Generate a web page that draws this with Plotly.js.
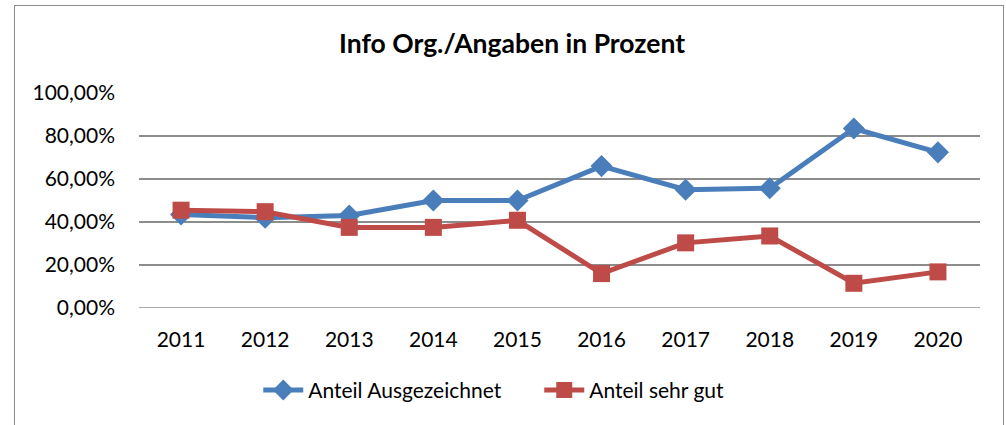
<!DOCTYPE html>
<html><head><meta charset="utf-8">
<script src="https://cdn.plot.ly/plotly-3.0.1.min.js"></script>
<style>
html,body{margin:0;padding:0;background:#fff;}
#wrap{position:relative;width:1006px;height:425px;}
#chart{width:1006px;height:425px;}
#frame{position:absolute;left:14px;top:5px;width:990px;height:430px;border:1.5px solid #8c8c8c;pointer-events:none;box-sizing:border-box;}
</style></head>
<body>
<div id="wrap"><div id="chart"></div><div id="frame"></div></div>
<script>
const years = ['2011','2012','2013','2014','2015','2016','2017','2018','2019','2020'];
const ausgezeichnet = [0.435, 0.42, 0.43, 0.50, 0.50, 0.66, 0.55, 0.557, 0.835, 0.724];
const sehrGut = [0.455, 0.448, 0.375, 0.375, 0.408, 0.16, 0.303, 0.335, 0.115, 0.168];
const seriesNames = ['Anteil Ausgezeichnet', 'Anteil sehr gut'];
const tickVals = [0, 0.2, 0.4, 0.6, 0.8, 1.0];

const font = 'Lato, "Open Sans", sans-serif';
const traces = [
  {x: years, y: ausgezeichnet, name: seriesNames[0], type: 'scatter', mode: 'lines+markers',
   line: {color: '#4a7ebb', width: 5}, marker: {symbol: 'diamond', size: 17, color: '#4a7ebb'}},
  {x: years, y: sehrGut, name: seriesNames[1], type: 'scatter', mode: 'lines+markers',
   line: {color: '#be4b48', width: 5}, marker: {symbol: 'square', size: 17, color: '#be4b48'}}
];
const layout = {
  width: 1006, height: 425,
  margin: {l: 139, r: 26, t: 93, b: 117},
  paper_bgcolor: '#fff', plot_bgcolor: '#fff',
  separators: ',.',
  font: {family: font, size: 21, color: '#000'},
  title: {text: '<b>Info Org./Angaben in Prozent</b>', x: 0.509, xref: 'container', xanchor: 'center',
          y: 0.897, yref: 'container', yanchor: 'middle',
          font: {family: font, size: 26.5, color: '#000'}},
  xaxis: {type: 'category', range: [-0.5, years.length - 0.5], showgrid: false, zeroline: false,
          showline: false, ticks: '', ticklabelstandoff: 17, tickfont: {size: 21}},
  yaxis: {range: [0, 1], tickvals: tickVals, tickformat: '.2%', showgrid: true, gridcolor: '#8c8c8c',
          gridwidth: 1.5, zeroline: false, showline: false, ticks: '', ticklabelstandoff: 23,
          tickfont: {size: 21}},
  showlegend: true,
  legend: {orientation: 'h', x: 0.1418, xanchor: 'left', y: -0.383, yanchor: 'middle',
           font: {size: 21}, itemwidth: 40, entrywidth: 226, entrywidthmode: 'pixels', traceorder: 'normal'},
  shapes: [{type: 'line', xref: 'paper', yref: 'y', x0: 0, x1: 1, y0: 0, y1: 0,
            line: {color: '#8c8c8c', width: 1.5}, layer: 'below'}]
};
Plotly.newPlot('chart', traces, layout, {displayModeBar: false, staticPlot: true});
</script>
</body></html>
